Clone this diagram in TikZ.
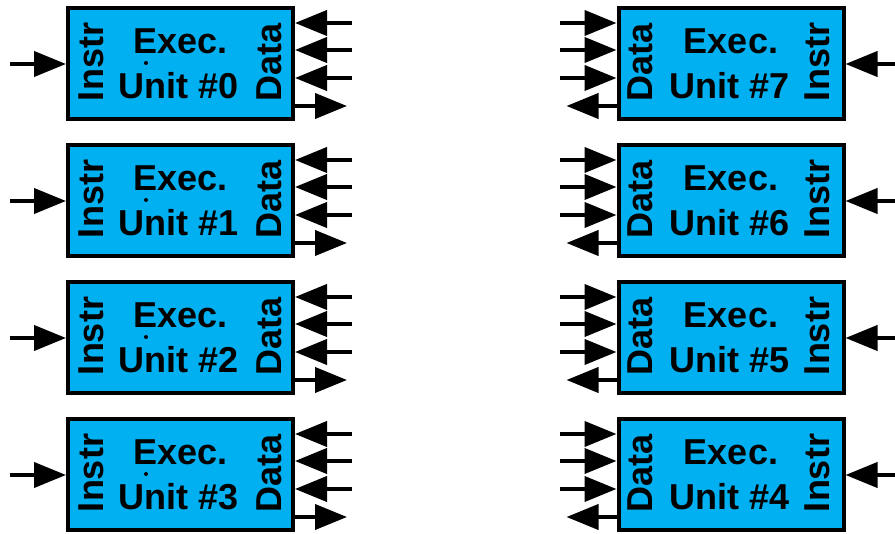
\documentclass[tikz,border=0pt]{standalone}
\usepackage{fontspec}
\setmainfont{Liberation Sans}
\usepackage{tikz}
\usetikzlibrary{arrows.meta,calc}
\definecolor{unitblue}{RGB}{0,176,240}

\begin{document}
\begin{tikzpicture}[x=1pt,y=-1pt,
  unit/.style={draw=black,line width=4pt,fill=unitblue,minimum width=225pt,minimum height=111pt,inner sep=0pt},
  lbl/.style={font=\fontsize{36}{40}\selectfont\bfseries,inner sep=0pt,anchor=base},
  side/.style={lbl,rotate=90},
  wire/.style={line width=4pt,-{Triangle[length=32pt,width=25pt]}},
]
  \useasboundingbox (0,0) rectangle (895,534);
  \foreach \i in {0,...,3} {
    \pgfmathtruncatemacro{\j}{7-\i}
    \pgfmathsetmacro{\y}{64+137*\i}
    % left column
    \node[unit] (u\i) at (180.5,\y) {};
    \node[lbl] (e\i) at ($(u\i)+(0,-10)$) {Exec.};
    \node[lbl] (n\i) at ($(u\i)+(-1.5,35)$) {Unit \#\i};
    \node[side] (ins\i) at ($(u\i)+(-77.5,-2)$) {Instr};
    \node[side] (dat\i) at ($(u\i)+(101,-2)$) {Data};
    \fill ($(u\i)+(-34.5,-1)$) circle (2pt);
    \coordinate (ci\i) at ($(u\i.west)+(-56,0)$);
    \draw[wire] (ci\i) -- (u\i.west);
    \foreach \k/\dy in {a/-41,b/-14,c/14} {
      \coordinate (cd\i\k) at ($(u\i.east)+(57,\dy)$);
      \draw[wire] (cd\i\k) -- (cd\i\k -| u\i.east);
    }
    \coordinate (co\i) at ($(u\i.east)+(52,42)$);
    \draw[wire] (co\i -| u\i.east) -- (co\i);
    % right column
    \node[unit] (u\j) at (731,\y) {};
    \node[lbl] (e\j) at ($(u\j)+(0,-10)$) {Exec.};
    \node[lbl] (n\j) at ($(u\j)+(-1.5,35)$) {Unit \#\j};
    \node[side] (dat\j) at ($(u\j)+(-79,-2)$) {Data};
    \node[side] (ins\j) at ($(u\j)+(98,-2)$) {Instr};
    \coordinate (ci\j) at ($(u\j.east)+(50,0)$);
    \draw[wire] (ci\j) -- (u\j.east);
    \foreach \k/\dy in {a/-41,b/-14,c/14} {
      \coordinate (cd\j\k) at ($(u\j.west)+(-57,\dy)$);
      \draw[wire] (cd\j\k) -- (cd\j\k -| u\j.west);
    }
    \coordinate (co\j) at ($(u\j.west)+(-50,42)$);
    \draw[wire] (co\j -| u\j.west) -- (co\j);
  }
\end{tikzpicture}
\end{document}
